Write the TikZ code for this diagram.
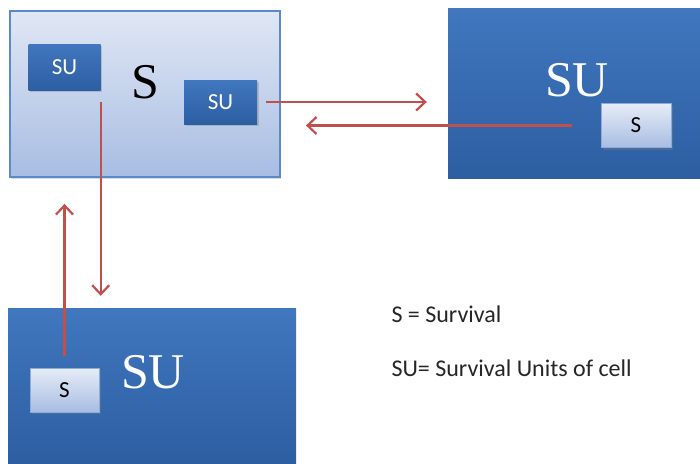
\documentclass[tikz,border=0pt]{standalone}
\usepackage{fontspec}
\setmainfont{Liberation Serif}
\newfontfamily\labelfont{Carlito}
\usetikzlibrary{arrows.meta,shadows}
\definecolor{arrowred}{HTML}{C0504D}
\definecolor{darktop}{HTML}{4077BE}
\definecolor{darkbot}{HTML}{2D5EA2}
\definecolor{lighttop}{HTML}{E0E7F5}
\definecolor{lightbot}{HTML}{A8BDE2}
\definecolor{lightedge}{HTML}{5A8AC8}
\begin{document}
\begin{tikzpicture}
        [x=1pt,y=-1pt,
         darkbox/.style={draw=none,top color=darktop,bottom color=darkbot,inner sep=0pt},
         lightbox/.style={draw=lightedge,line width=1.8pt,top color=lighttop,bottom color=lightbot,inner sep=0pt},
         unitbox/.style={darkbox,minimum width=72pt,minimum height=46pt,text=white,
           font=\labelfont\fontsize{23}{25}\selectfont,
           drop shadow={shadow xshift=1.5pt,shadow yshift=-2pt,opacity=0.35}},
         survbox/.style={draw=lightedge!70,line width=0.4pt,top color=lighttop!80!white,bottom color=lightbot,
           inner sep=0pt,minimum width=70pt,minimum height=44pt,
           font=\labelfont\fontsize{23}{25}\selectfont,
           drop shadow={shadow xshift=1.5pt,shadow yshift=-2pt,opacity=0.35}},
         bigtext/.style={font=\fontsize{50}{55}\selectfont},
         flow/.style={draw=arrowred,line width=2.2pt,-{Straight Barb[length=9pt,width=17pt]}}]
        \useasboundingbox (0,0) rectangle (700,463);

        % S cell with two survival units
        \node[lightbox,minimum width=270pt,minimum height=166pt,
              drop shadow={shadow xshift=1pt,shadow yshift=-1.5pt,opacity=0.3}] (sleft) at (145,94) {};
        \node[unitbox] (su1) at (64.5,67) {SU};
        \node[bigtext] (stext) at (145,82) {S};
        \node[unitbox,minimum width=73pt,minimum height=44pt] (su2) at (220.5,102) {SU};

        % SU cell on the right
        \node[darkbox,minimum width=252pt,minimum height=170pt] (sright) at (574,93) {};
        \node[bigtext,text=white] (surtext) at (577,80) {SU};
        \node[survbox] (sbox1) at (636,125.5) {S};

        % SU cell at the bottom
        \node[darkbox,minimum width=288pt,minimum height=155pt] (sbot) at (152,385.5) {};
        \node[bigtext,text=white] (subtext) at (153,372) {SU};
        \node[survbox,minimum width=69pt] (sbox2) at (64.5,390) {S};

        % exchanges
        \draw[flow,shorten <=9pt,shorten >=21pt] (su2.east) -- (su2.east -| sright.west);
        \draw[flow,shorten <=29pt,shorten >=25pt] (sbox1.west) -- (sbox1.west -| sleft.east);
        \draw[flow,shorten <=12pt,shorten >=12pt] (su1.south east) -- (su1.south east |- sbot.north);
        \draw[flow,shorten <=12pt,shorten >=26pt] (sbox2.north) -- (sbox2.north |- sleft.south);

        % legend
        \node[anchor=west,font=\labelfont\fontsize{24}{28}\selectfont,text=black!85] (leg1) at (388,314) {S = Survival};
        \node[anchor=west,font=\labelfont\fontsize{24}{28}\selectfont,text=black!85] (leg2) at (388,368) {SU= Survival Units of cell};
\end{tikzpicture}
\end{document}
